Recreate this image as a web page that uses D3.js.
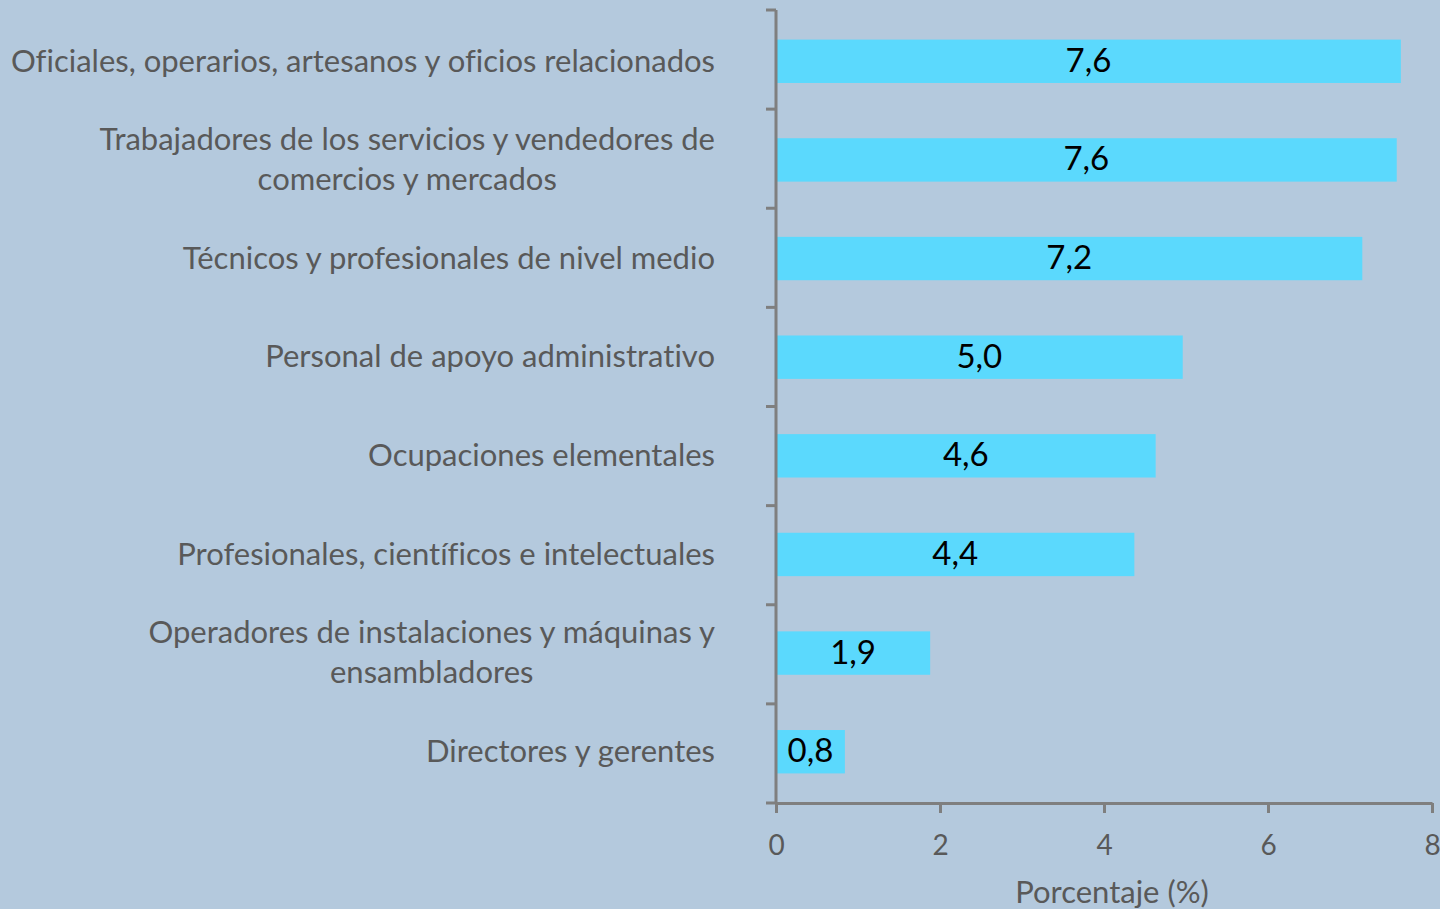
<!DOCTYPE html>
<html>
<head>
<meta charset="utf-8">
<script src="https://cdn.jsdelivr.net/npm/d3@7"></script>
<style>
  html, body { margin: 0; padding: 0; background: #b4c9dd; overflow: hidden; }
  svg { display: block; }
  text { font-variant-ligatures: none; }
</style>
</head>
<body>
<div id="chart"></div>
<script>
// Ocupaciones - porcentaje (%)
const categories = [
    "Oficiales, operarios, artesanos y oficios relacionados",
    "Trabajadores de los servicios y vendedores de|comercios y mercados",
    "Técnicos y profesionales de nivel medio",
    "Personal de apoyo administrativo",
    "Ocupaciones elementales",
    "Profesionales, científicos e intelectuales",
    "Operadores de instalaciones y máquinas y|ensambladores",
    "Directores y gerentes"
];
const values = [7.62, 7.57, 7.15, 4.96, 4.63, 4.37, 1.88, 0.84];
const valueLabels = ["7,6", "7,6", "7,2", "5,0", "4,6", "4,4", "1,9", "0,8"];
const xTicks = [0, 2, 4, 6, 8];
const xTitle = "Porcentaje (%)";

document.addEventListener('DOMContentLoaded', () => {
    drawChart();
});

function drawChart() {
    const width = 1440;
    const height = 909;
    const font = "Lato, 'Open Sans', sans-serif";
    const axisColor = "#7f7f7f";
    const textColor = "#595959";

    const svg = d3.select("#chart")
        .append("svg")
        .attr("width", width)
        .attr("height", height);

    svg.append("rect")
        .attr("width", width)
        .attr("height", height)
        .attr("fill", "#b4c9dd");

    // scales
    const x = d3.scaleLinear()
        .domain([0, 8])
        .range([776, 1432]);

    const y = d3.scaleBand()
        .domain(categories)
        .range([10, 803])
        .paddingInner(0.56)
        .paddingOuter(0.3);

    // bars
    svg.append("g")
        .selectAll("rect")
        .data(values)
        .enter()
        .append("rect")
        .attr("x", x(0))
        .attr("y", (d, i) => y(categories[i]))
        .attr("width", d => x(d) - x(0))
        .attr("height", y.bandwidth())
        .attr("fill", "#5bd9fd");

    // value labels, centered in bar
    svg.append("g")
        .selectAll("text")
        .data(values)
        .enter()
        .append("text")
        .attr("x", d => (x(0) + x(d)) / 2)
        .attr("y", (d, i) => y(categories[i]) + y.bandwidth() / 2)
        .attr("dy", "0.32em")
        .attr("text-anchor", "middle")
        .attr("fill", "#000")
        .style("font-family", font)
        .style("font-size", "33px")
        .text((d, i) => valueLabels[i]);

    // category labels (multi-line centered, block right-aligned)
    const labelRight = 715;
    const lineHeight = 40;
    const catG = svg.append("g")
        .style("font-family", font)
        .style("font-size", "31px")
        .attr("fill", textColor);

    categories.forEach((c, i) => {
        const lines = c.split("|");
        const cy = y(c) + y.bandwidth() / 2;
        const t = catG.append("text")
            .attr("text-anchor", lines.length > 1 ? "middle" : "end");
        lines.forEach((ln, j) => {
            t.append("tspan")
                .attr("y", cy + (j - (lines.length - 1) / 2) * lineHeight)
                .attr("dy", "0.33em")
                .text(ln);
        });
        if (lines.length > 1) {
            let maxW = 0;
            t.selectAll("tspan").each(function() {
                maxW = Math.max(maxW, this.getComputedTextLength());
            });
            t.selectAll("tspan").attr("x", labelRight - maxW / 2);
        } else {
            t.selectAll("tspan").attr("x", labelRight);
        }
    });

    // y axis with ticks at band boundaries
    const yAxis = svg.append("g")
        .attr("stroke", axisColor)
        .attr("stroke-width", 3);
    yAxis.append("line")
        .attr("x1", x(0)).attr("x2", x(0))
        .attr("y1", y.range()[0]).attr("y2", y.range()[1]);
    const step = (y.range()[1] - y.range()[0]) / categories.length;
    yAxis.selectAll("line.tick")
        .data(d3.range(categories.length + 1))
        .enter()
        .append("line")
        .attr("class", "tick")
        .attr("x1", x(0) - 10).attr("x2", x(0))
        .attr("y1", i => y.range()[0] + i * step)
        .attr("y2", i => y.range()[0] + i * step);

    // x axis
    const xAxis = svg.append("g")
        .attr("transform", `translate(0, ${y.range()[1]})`)
        .call(d3.axisBottom(x).tickValues(xTicks).tickSize(10).tickSizeOuter(0).tickPadding(22));
    xAxis.select(".domain")
        .attr("stroke", axisColor)
        .attr("stroke-width", 3);
    xAxis.selectAll(".tick line")
        .attr("stroke", axisColor)
        .attr("stroke-width", 3);
    xAxis.selectAll(".tick text")
        .attr("fill", textColor)
        .style("font-family", font)
        .style("font-size", "28px");

    // x axis title
    svg.append("text")
        .attr("x", 1112)
        .attr("y", 903)
        .attr("text-anchor", "middle")
        .attr("fill", textColor)
        .style("font-family", font)
        .style("font-size", "31px")
        .text(xTitle);
}
</script>
</body>
</html>
